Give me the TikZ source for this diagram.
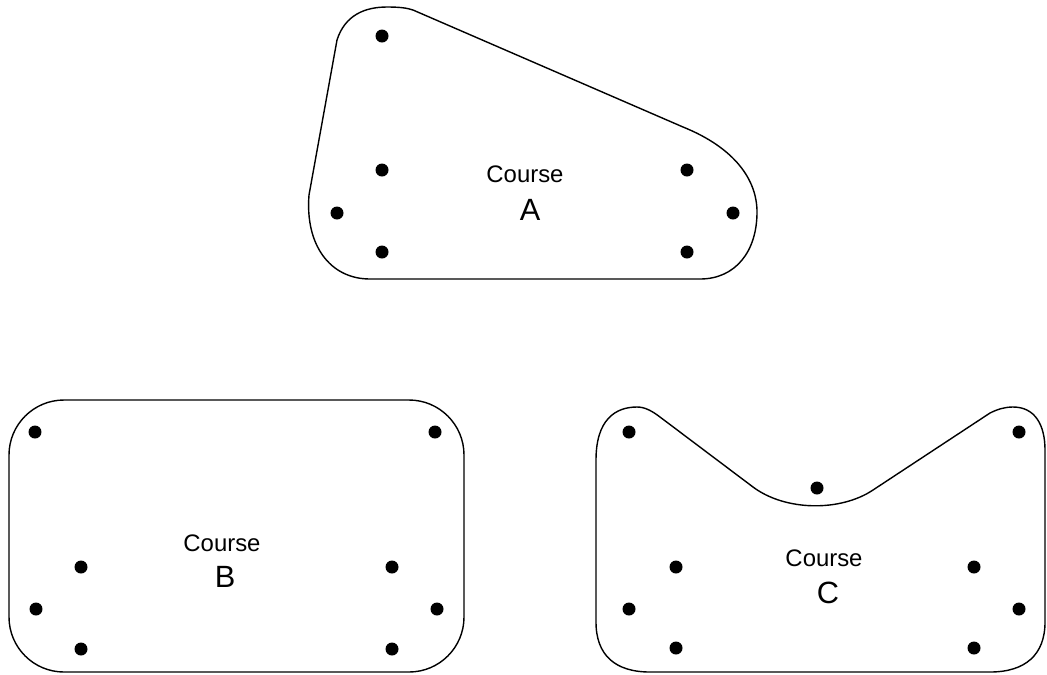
\documentclass[tikz,border=0pt]{standalone}
\usepackage{fontspec}
\setmainfont{Liberation Sans}

\begin{document}
\begin{tikzpicture}[x=0.02cm, y=-0.02cm, line width=0.8pt,
  spot/.style = {shape=circle, fill, inner sep=0pt, minimum size=0.26cm},
  word/.style = {font=\fontsize{13.6}{16}\selectfont},
  letter/.style = {font=\fontsize{17.5}{20}\selectfont}]

  \useasboundingbox (0,0) rectangle (1047,674);

  % course A
  \draw (413,10) -- (683,127)
    .. controls (735,148) and (757,180) .. (757,212)
    .. controls (757,252) and (735,279) .. (700,279) -- (370,279)
    .. controls (330,279) and (305,245) .. (309,195) -- (337,40)
    .. controls (345,15) and (365,7) .. (387,7)
    .. controls (400,7) and (407,8) .. cycle;
  \foreach \n/\x/\y in {1/382/36, 2/382/170, 3/337/213, 4/382/252,
                        5/687/170, 6/733/213, 7/687/252}
    \node[spot] (a\n) at (\x,\y) {};
  \node[word] (wordA) at (525,174) {Course};
  \node[letter] (letterA) at (530,210) {A};

  % course B
  \draw[rounded corners=1.1cm] (9,400) rectangle (464,672);
  \foreach \n/\x/\y in {1/35/432, 2/435/432, 3/81/567, 4/392/567,
                        5/36/609, 6/437/609, 7/81/649, 8/392/649}
    \node[spot] (b\n) at (\x,\y) {};
  \node[word] (wordB) at (222,543) {Course};
  \node[letter] (letterB) at (225,577) {B};

  % course C
  \draw (596,460)
    .. controls (596,420) and (615,407) .. (637,407)
    .. controls (645,407) and (652,411) .. (660,417) -- (753,487)
    .. controls (785,511) and (840,512) .. (873,490) -- (990,413)
    .. controls (998,409) and (1005,407) .. (1013,407)
    .. controls (1035,407) and (1045,425) .. (1045,450) -- (1045,622)
    .. controls (1045,655) and (1025,672) .. (990,672) -- (650,672)
    .. controls (615,672) and (596,655) .. (596,622) -- cycle;
  \foreach \n/\x/\y in {1/629/432, 2/1019/432, 3/817/488, 4/676/567,
                        5/974/567, 6/629/609, 7/1019/609, 8/676/648, 9/974/648}
    \node[spot] (c\n) at (\x,\y) {};
  \node[word] (wordC) at (824,558) {Course};
  \node[letter] (letterC) at (828,593) {C};
\end{tikzpicture}
\end{document}
